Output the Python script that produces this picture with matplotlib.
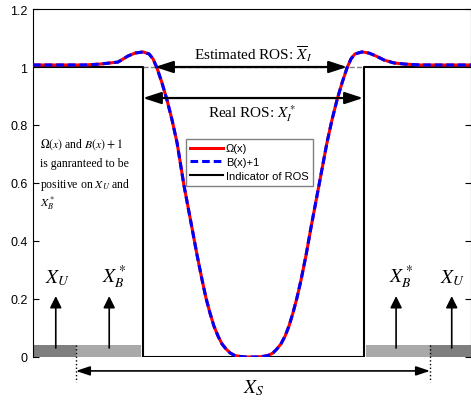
import numpy as np
import matplotlib
matplotlib.use('Agg')
import matplotlib.pyplot as plt

plt.rcParams['font.family'] = ['Liberation Sans', 'DejaVu Sans']
plt.rcParams['mathtext.fontset'] = 'stix'

# curve Omega(x) and B(x)+1 (same values)
x_curve = [-1.000, -0.877, -0.763, -0.694, -0.648, -0.612, -0.566, -0.534, -0.498, -0.470,
           -0.452, -0.434, -0.411, -0.388, -0.365, -0.342, -0.311, -0.274, -0.251, -0.228,
           -0.210, -0.192, -0.174, -0.155, -0.137, -0.119, -0.100, -0.078, -0.055, -0.027,
           0.000,
           0.023, 0.050, 0.073, 0.096, 0.114, 0.132, 0.151, 0.169, 0.187, 0.205,
           0.224, 0.247, 0.269, 0.306, 0.342, 0.365, 0.388, 0.411, 0.434, 0.452,
           0.470, 0.502, 0.534, 0.566, 0.603, 0.648, 0.699, 0.767, 0.881, 1.000]
y_omega = [1.007, 1.007, 1.007, 1.010, 1.014, 1.017, 1.038, 1.048, 1.052, 1.045,
           1.028, 0.997, 0.945, 0.886, 0.817, 0.738, 0.593, 0.445, 0.352, 0.266,
           0.203, 0.152, 0.107, 0.072, 0.045, 0.028, 0.014, 0.005, 0.002, 0.000,
           0.000,
           0.000, 0.002, 0.005, 0.014, 0.028, 0.045, 0.072, 0.107, 0.152, 0.203,
           0.266, 0.352, 0.445, 0.593, 0.738, 0.817, 0.886, 0.945, 0.997, 1.028,
           1.045, 1.052, 1.048, 1.038, 1.024, 1.014, 1.010, 1.007, 1.007, 1.007]
y_b1 = list(y_omega)

# indicator of the real ROS
x_ind = [-1.0, -0.500, -0.500, 0.510, 0.510, 1.0]
y_ind = [1, 1, 0, 0, 1, 1]

# ROS bounds
est_ros = [-0.443, 0.434]
real_ros = [-0.498, 0.507]

# X_U / X_B* bands at the bottom
band_dark = [(-1.0, -0.804), (0.813, 1.0)]
band_light = [(-0.804, -0.507), (0.521, 0.813)]
band_h = 0.041
xs_range = [-0.804, 0.813]
up_arrows_x = [-0.896, -0.652, 0.658, 0.912]

fig = plt.figure(figsize=(4.71, 4.02), dpi=100)
ax = fig.add_axes([33/471, 1-358/402, (471-33)/471, (358-10)/402])

ax.plot(x_ind, y_ind, color='k', lw=1.5, label='Indicator of ROS', zorder=2)
l1, = ax.plot(x_curve, y_omega, color='red', lw=2.2, label='\u03a9(x)', zorder=3)
l2, = ax.plot(x_curve, y_b1, color='blue', lw=2.2, ls=(0, (2.5, 1.3)), label='B(x)+1', zorder=4)
l3 = ax.lines[0]

for a, b in band_dark:
    ax.fill_between([a, b], 0, band_h, color='#7f7f7f', lw=0, zorder=1)
for a, b in band_light:
    ax.fill_between([a, b], 0, band_h, color='#a9a9a9', lw=0, zorder=1)

# gray dashed continuation at y=1
ax.plot([real_ros[0], real_ros[1]], [1, 1], color='0.5', lw=1, ls='--', zorder=1)

head = dict(color='k', shrinkA=0, shrinkB=0)
ax.annotate('', xy=(est_ros[0], 1.0), xytext=(est_ros[1], 1.0),
            arrowprops=dict(arrowstyle='<|-|>,head_length=0.55,head_width=0.18',
                            mutation_scale=20, lw=1.6, **head), zorder=5)
ax.annotate('', xy=(real_ros[0], 0.893), xytext=(real_ros[1], 0.893),
            arrowprops=dict(arrowstyle='<|-|>,head_length=0.55,head_width=0.18',
                            mutation_scale=20, lw=1.6, **head), zorder=5)
ax.text(0.007, 1.028, r'Estimated ROS: $\overline{X}_I$', ha='center', va='baseline',
        fontsize=11, family='Liberation Serif')
ax.text(0.002, 0.828, r'Real ROS: $X_I^*$', ha='center', va='baseline',
        fontsize=11, family='Liberation Serif')

# note on the left
note = [r'$\Omega(x)$ and $B(x)+1$', 'is ganranteed to be',
        r'positive on $X_U$ and', r'$X_B^*$']
note_y = [0.724, 0.659, 0.586, 0.521]
for s, yy in zip(note, note_y):
    ax.text(-0.968, yy, s, ha='left', va='baseline', fontsize=8.5, family='Liberation Serif')

# up arrows and labels
for xa in up_arrows_x:
    ax.annotate('', xy=(xa, 0.210), xytext=(xa, 0.031),
                arrowprops=dict(arrowstyle='-|>,head_length=0.5,head_width=0.25',
                                mutation_scale=14, lw=1.2, **head), zorder=5)
for xl, s in zip([-0.945, -0.685, 0.626, 0.858], [r'$X_U$', r'$X_B^*$', r'$X_B^*$', r'$X_U$']):
    ax.text(xl, 0.259, s, ha='left', va='baseline', fontsize=14)

# X_S
for xv in xs_range:
    ax.plot([xv, xv], [band_h, -0.086], color='k', lw=1, ls=':', clip_on=False)
ax.annotate('', xy=(xs_range[0], -0.048), xytext=(xs_range[1], -0.048),
            arrowprops=dict(arrowstyle='<|-|>,head_length=0.6,head_width=0.2',
                            mutation_scale=14, lw=1.2, **head), annotation_clip=False)
ax.text(-0.041, -0.121, r'$X_S$', ha='left', va='baseline', fontsize=14, clip_on=False)

ax.set_xlim(-1, 1)
ax.set_ylim(0, 1.2)
ax.set_yticks([0, 0.2, 0.4, 0.6, 0.8, 1.0, 1.2])
ax.set_yticklabels(['0', '0.2', '0.4', '0.6', '0.8', '1', '1.2'])
ax.set_xticks([])
ax.tick_params(axis='y', direction='in', right=True, length=4, labelsize=9, pad=4)
ax.spines['bottom'].set_visible(False)
for s in ['left', 'top', 'right']:
    ax.spines[s].set_linewidth(0.8)

ax.legend([l1, l2, l3], ['\u03a9(x)', 'B(x)+1', 'Indicator of ROS'],
          loc='upper left', bbox_to_anchor=(186/471, 1-140/402), bbox_transform=fig.transFigure,
          fontsize=8, fancybox=False, edgecolor='0.5', framealpha=1,
          handlelength=2.9, handletextpad=0.3, labelspacing=0.35, borderaxespad=0)

fig.savefig('out.png', dpi=100)
